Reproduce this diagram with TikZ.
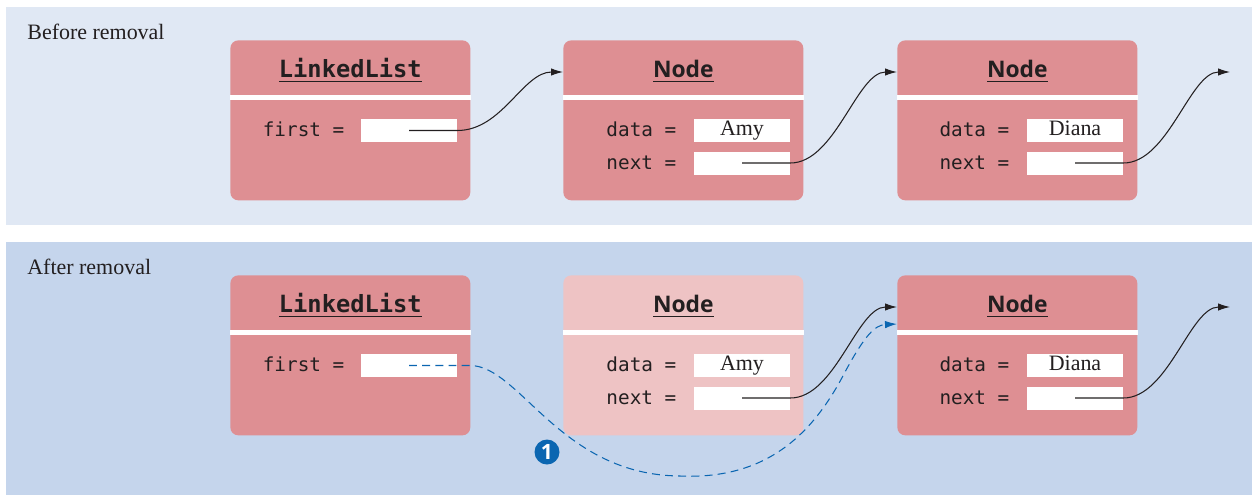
\documentclass[tikz,border=0pt]{standalone}
\usepackage{fontspec}
\setmainfont{Liberation Serif}
\setsansfont{Open Sans}
\setmonofont{DejaVu Sans Mono}
\usetikzlibrary{arrows.meta,positioning,calc}
\definecolor{panelA}{HTML}{E0E8F4}
\definecolor{panelB}{HTML}{C5D5EC}
\definecolor{boxred}{HTML}{DE8F93}
\definecolor{boxfade}{HTML}{EEC3C4}
\definecolor{ink}{HTML}{231F20}
\definecolor{stepblue}{HTML}{0B66B1}
\newcommand{\titleul}[1]{\setbox0\hbox{#1}\rlap{\rule[-3pt]{\wd0}{0.8pt}}\box0}

\begin{document}
\begin{tikzpicture}[x=0.02cm,y=-0.02cm,
  obj/.style={rounded corners=4.5pt, fill=boxred, minimum width=4.8cm, minimum height=3.2cm,
              inner sep=0pt, anchor=north west},
  head/.style={anchor=base, inner sep=0pt, text=ink, font=\sffamily\bfseries\fontsize{13}{15}\selectfont},
  headmono/.style={head, font=\ttfamily\bfseries\fontsize{13.5}{15}\selectfont},
  field/.style={fill=white, minimum width=1.92cm, minimum height=0.46cm, inner sep=0pt,
                text height=8pt, text depth=2pt, text=ink, font=\fontsize{12.5}{14}\selectfont},
  lbl/.style={anchor=east, inner sep=0pt, text height=8pt, text depth=1pt, text=ink,
              font=\ttfamily\fontsize{11}{13}\selectfont},
  ptr/.style={-{Latex[length=2.4mm,width=1.5mm]}, line width=0.6pt, draw=ink},
  ptrnew/.style={ptr, draw=stepblue, dash pattern=on 4.5pt off 3pt},
  badge/.style={circle, fill=stepblue, text=white, inner sep=0pt, minimum size=0.5cm,
                font=\sffamily\bfseries\fontsize{12}{13}\selectfont}
]
  \useasboundingbox (0,0) rectangle (1252,495);
  \fill[white] (0,0) rectangle (1252,495);
  \fill[panelA] (6,7) rectangle (1252,225);
  \fill[panelB] (6,242) rectangle (1252,495);

  \foreach \row/\dy/\midfill/\panelname in {before/0/boxred/Before removal, after/235/boxfade/After removal} {
  \begin{scope}[shift={(0,\dy)}]
    \node[anchor=base west, inner sep=0pt, text=ink, font=\fontsize{12.5}{15}\selectfont] (cap-\row) at (27,39) {\panelname};
    \node[obj] (list-\row) at (230,40) {};
    \node[obj, fill=\midfill] (amy-\row) at (563,40) {};
    \node[obj] (diana-\row) at (897,40) {};
    \foreach \obj in {list,amy,diana}
      \fill[white] ($(\obj-\row.north west)+(0,55)$) rectangle ($(\obj-\row.north east)+(0,60)$);
    \node[headmono] (listhead-\row) at ($(list-\row.north)+(0,37)$) {\titleul{LinkedList}};
    \node[head] (amyhead-\row) at ($(amy-\row.north)+(0,37)$) {\titleul{Node}};
    \node[head] (dianahead-\row) at ($(diana-\row.north)+(0,37)$) {\titleul{Node}};

    \node[field] (first-\row) at (409,130.5) {};
    \node[field] (amydata-\row) at (742,130.5) {Amy};
    \node[field] (amynext-\row) at (742,163) {};
    \node[field] (dianadata-\row) at (1075,130.5) {Diana};
    \node[field] (diananext-\row) at (1075,163) {};
    \node[lbl] at ($(first-\row.west)+(-16,0)$) {first =};
    \node[lbl] at ($(amydata-\row.west)+(-17,0)$) {data =};
    \node[lbl] at ($(amynext-\row.west)+(-17,0)$) {next =};
    \node[lbl] at ($(dianadata-\row.west)+(-17,0)$) {data =};
    \node[lbl] at ($(diananext-\row.west)+(-17,0)$) {next =};

    \coordinate (null-\row) at (1230,72);
    \draw[ptr] (amynext-\row.center) -- (amynext-\row.east)
      .. controls +(45,0) and +(-40,0) .. (diana-\row.north west |- null-\row);
    \draw[ptr] (diananext-\row.center) -- (diananext-\row.east)
      .. controls +(45,0) and +(-40,0) .. (null-\row);
  \end{scope}
  }

  % old link, before removal
  \draw[ptr] (first-before.center) -- (first-before.east)
    .. controls +(45,0) and +(-40,0) .. (amy-before.north west |- null-before);

  % new link, after removal
  \coordinate (relink) at ($(diana-after.north west)+(0,49)$);
  \draw[ptrnew] (first-after.center) -- +(61,0)
    .. controls +(50,0) and (560,475) .. (680,476)
    .. controls (770,480) and (815,430) .. (845,372)
    .. controls (865,335) and (875,325) .. (relink);
  \node[badge] (step1) at (547,452) {1};
\end{tikzpicture}
\end{document}
